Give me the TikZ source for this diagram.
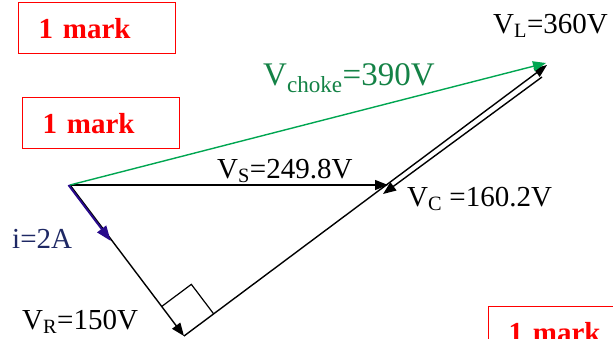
\documentclass[tikz,border=0pt]{standalone}
\usepackage{fontspec}
\setmainfont{Liberation Serif}
\usetikzlibrary{arrows.meta, calc}
\definecolor{markred}{RGB}{255,0,0}
\definecolor{chokegreen}{RGB}{0,166,81}
\definecolor{chokelabel}{RGB}{20,130,70}
\definecolor{currentblue}{RGB}{40,10,140}
\definecolor{currentlabel}{RGB}{30,40,100}

\tikzset{
  phasor/.style={line width=1.4pt, -{Triangle[length=13pt,width=10pt]}},
  lbl/.style={font=\fontsize{29}{29}\selectfont, anchor=base west, inner sep=0pt},
  markbox/.style={draw=markred, line width=1.4pt, text=markred,
    font=\fontsize{29}{29}\selectfont\bfseries, anchor=north west,
    minimum height=51pt, text width=117pt, inner xsep=20pt, inner ysep=0pt, align=left}
}

\begin{document}
\begin{tikzpicture}[x=1pt, y=-1pt]
    \clip (0,0) rectangle (613,338);

    % Phasor points
    \coordinate (O) at (70,185);
    \coordinate (R) at (184,336);
    \coordinate (L) at (547,65);
    \coordinate (G) at (546,63);
    \coordinate (S) at (388,185);
    \coordinate (Ctop) at (542,77);
    \coordinate (Cend) at (383,194);

    % Mark boxes
    \foreach \n/\x/\y in {1/18/2, 2/22/97, 3/488/306} {
        \node[markbox] (mark\n) at (\x,\y) {1 mark};
    }

    % Voltage phasors
    \draw[phasor] (O) -- (R);
    \draw[phasor] (R) -- (L);
    \draw[phasor] (Ctop) -- (Cend);
    \draw[phasor] (O) -- (S);
    \draw[phasor, chokegreen] (O) -- (G);
    \draw[line width=2pt, currentblue, -{Triangle[length=15pt,width=11pt]}]
        ([xshift=-1.5pt]O) -- ([xshift=-1.5pt]$(O)!0.37!(R)$);

    % Right angle
    \coordinate (ra1) at ($(R)!37pt!(O)$);
    \coordinate (ra2) at ($(R)!37pt!(L)$);
    \draw[line width=1.2pt] (ra1) -- ($(ra1)-(R)+(ra2)$) -- (ra2);

    % Labels
    \node[lbl] (vl) at (493,33) {V\textsubscript{L}=360V};
    \node[lbl, text=chokelabel, font=\fontsize{33}{33}\selectfont] (vchoke) at (263,85) {V\textsubscript{choke}=390V};
    \node[lbl] (vs) at (217,178) {V\textsubscript{S}=249.8V};
    \node[lbl] (vc) at (407,206) {V\textsubscript{C} =160.2V};
    \node[lbl, text=currentlabel] (i) at (12,248) {i=2A};
    \node[lbl] (vr) at (22,329) {V\textsubscript{R}=150V};
\end{tikzpicture}
\end{document}
